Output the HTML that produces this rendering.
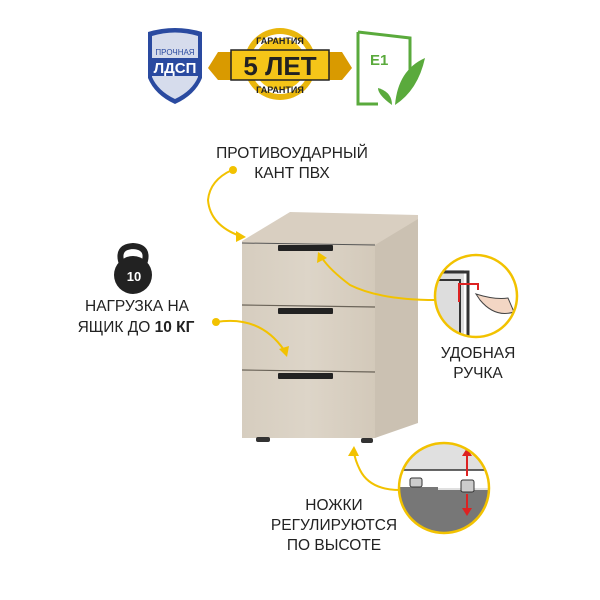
<!DOCTYPE html>
<html><head><meta charset="utf-8"><style>
body{margin:0;width:600px;height:600px;background:#fff;overflow:hidden}
svg{display:block}
text{font-family:"Liberation Sans",sans-serif;fill:#222}
</style></head><body>
<svg width="600" height="600" viewBox="0 0 600 600">
<defs>
<linearGradient id="wood" x1="0" x2="1" y1="0" y2="0">
<stop offset="0" stop-color="#d6cdbf"/><stop offset="0.5" stop-color="#ddd5c8"/><stop offset="1" stop-color="#d3c9ba"/></linearGradient>
<clipPath id="c1"><circle cx="476" cy="296" r="41"/></clipPath>
<clipPath id="c2"><circle cx="444" cy="488" r="45"/></clipPath>
</defs>
<!-- badges -->
<path d="M148 32 Q175 24 202 32 L202 78 Q195 95 175 104 Q155 95 148 78 Z" fill="#2a4aa0"/>
<path d="M152 36 Q175 29 198 36 L198 77 Q192 91 175 99 Q158 91 152 77 Z" fill="#d6dcec"/>
<text x="175" y="55" font-size="8" text-anchor="middle" style="fill:#2a4aa0">ПРОЧНАЯ</text>
<rect x="152" y="58" width="46" height="18" fill="#2a4aa0"/>
<text x="175" y="73" font-size="15" font-weight="bold" text-anchor="middle" style="fill:#fff">ЛДСП</text>
<circle cx="280" cy="64" r="36" fill="#e9b60c"/>
<circle cx="280" cy="64" r="30" fill="#fff"/>
<circle cx="280" cy="64" r="26" fill="#f5c518"/>
<path d="M218 52 L342 52 L352 68 L342 80 L218 80 L208 68 Z" fill="#d99a00"/>
<rect x="231" y="50" width="98" height="30" fill="#f5c518" stroke="#222" stroke-width="1.5"/>
<text x="280" y="75" font-size="26" font-weight="bold" text-anchor="middle">5 ЛЕТ</text>
<text x="280" y="44" font-size="9" font-weight="bold" text-anchor="middle">ГАРАНТИЯ</text>
<text x="280" y="93" font-size="9" font-weight="bold" text-anchor="middle">ГАРАНТИЯ</text>
<path d="M358 32 L410 38 L410 78 M358 32 L358 104 L378 104" fill="none" stroke="#5aaa3c" stroke-width="3"/>
<text x="370" y="65" font-size="15" font-weight="bold" style="fill:#5aaa3c">E1</text>
<path d="M395 105 Q398 70 425 58 Q418 90 395 105Z" fill="#5aaa3c"/>
<path d="M392 105 Q378 95 378 88 Q392 92 392 105Z" fill="#5aaa3c"/>
<!-- cabinet -->
<path d="M375 242 L418 218 L418 423 L375 438 Z" fill="#cbc1b2"/>
<path d="M242 241 L290 212 L418 215 L418 219 L375 245 L242 243 Z" fill="#d9cfc1"/>
<rect x="242" y="243" width="133" height="195" fill="url(#wood)"/>
<line x1="242" y1="243" x2="375" y2="245" stroke="#555" stroke-width="1"/>
<line x1="242" y1="305" x2="375" y2="307" stroke="#6a6358" stroke-width="1.2"/>
<line x1="242" y1="370" x2="375" y2="372" stroke="#6a6358" stroke-width="1.2"/>
<rect x="278" y="245" width="55" height="6" rx="1" fill="#222"/>
<rect x="278" y="308" width="55" height="6" rx="1" fill="#222"/>
<rect x="278" y="373" width="55" height="6" rx="1" fill="#222"/>
<rect x="256" y="437" width="14" height="5" rx="2" fill="#333"/>
<rect x="361" y="438" width="12" height="5" rx="2" fill="#333"/>
<!-- texts -->
<text x="292" y="158" font-size="15.5" text-anchor="middle">ПРОТИВОУДАРНЫЙ</text>
<text x="292" y="178" font-size="15.5" text-anchor="middle">КАНТ ПВХ</text>
<text x="137" y="311" font-size="15.5" text-anchor="middle">НАГРУЗКА НА</text>
<text x="136" y="332" font-size="15.5" text-anchor="middle">ЯЩИК ДО <tspan font-weight="bold">10 КГ</tspan></text>
<text x="478" y="358" font-size="15.5" text-anchor="middle">УДОБНАЯ</text>
<text x="478" y="378" font-size="15.5" text-anchor="middle">РУЧКА</text>
<text x="334" y="510" font-size="15.5" text-anchor="middle">НОЖКИ</text>
<text x="334" y="530" font-size="15.5" text-anchor="middle">РЕГУЛИРУЮТСЯ</text>
<text x="334" y="550" font-size="15.5" text-anchor="middle">ПО ВЫСОТЕ</text>
<!-- kettlebell -->
<path d="M122 264 Q116 247 133 246 Q150 247 144 264" fill="none" stroke="#222" stroke-width="6"/>
<circle cx="133" cy="275" r="19" fill="#222"/>
<text x="134" y="281" font-size="13" font-weight="bold" text-anchor="middle" style="fill:#fff">10</text>
<!-- connectors -->
<g fill="none" stroke="#f2c200" stroke-width="2">
<path d="M232 170 Q210 180 208 200 Q210 225 240 236"/>
<path d="M216 322 Q260 315 284 350"/>
<path d="M436 300 Q380 300 350 285 Q330 270 322 258"/>
<path d="M400 490 Q370 490 360 470 Q355 460 354 452"/>
</g>
<g fill="#f2c200">
<circle cx="233" cy="170" r="4"/><circle cx="216" cy="322" r="4"/>
<path d="M246 237 L236 231 L236 242Z"/>
<path d="M287 357 L279 349 L289 346Z"/>
<path d="M318 252 L317 263 L327 258Z"/>
<path d="M354 446 L348 456 L359 456Z"/>
</g>
<!-- circle 1 -->
<g clip-path="url(#c1)">
<rect x="434" y="254" width="84" height="84" fill="#fff"/>
<rect x="434" y="270" width="30" height="70" fill="#ddd"/>
<path d="M434 272 L468 272 L468 340" fill="none" stroke="#333" stroke-width="3"/>
<path d="M434 280 L460 280 L460 340" fill="none" stroke="#333" stroke-width="2"/>
<path d="M459 302 L459 284 L478 284 L478 290" fill="none" stroke="#d22" stroke-width="2"/>
<path d="M476 294 Q495 300 508 298 L514 312 Q495 318 480 300Z" fill="#f3d6c4" stroke="#444" stroke-width="1"/>
</g>
<circle cx="476" cy="296" r="41" fill="none" stroke="#f2c200" stroke-width="2.5"/>
<!-- circle 2 -->
<g clip-path="url(#c2)">
<rect x="398" y="442" width="92" height="92" fill="#e0e0e0"/>
<rect x="398" y="470" width="92" height="18" fill="#fff"/>
<line x1="398" y1="470" x2="490" y2="470" stroke="#333" stroke-width="1.5"/>
<path d="M398 487 L438 487 L438 490 L490 490 L490 534 L398 534Z" fill="#777"/>
<rect x="410" y="478" width="12" height="9" rx="2" fill="#ccc" stroke="#333"/>
<rect x="461" y="480" width="13" height="12" rx="2" fill="#ccc" stroke="#333"/>
<line x1="467" y1="452" x2="467" y2="476" stroke="#d22" stroke-width="2"/>
<path d="M467 448 L462 456 L472 456Z" fill="#d22"/>
<line x1="467" y1="494" x2="467" y2="512" stroke="#d22" stroke-width="2"/>
<path d="M467 516 L462 508 L472 508Z" fill="#d22"/>
</g>
<circle cx="444" cy="488" r="45" fill="none" stroke="#f2c200" stroke-width="2.5"/>
</svg>
</body></html>
